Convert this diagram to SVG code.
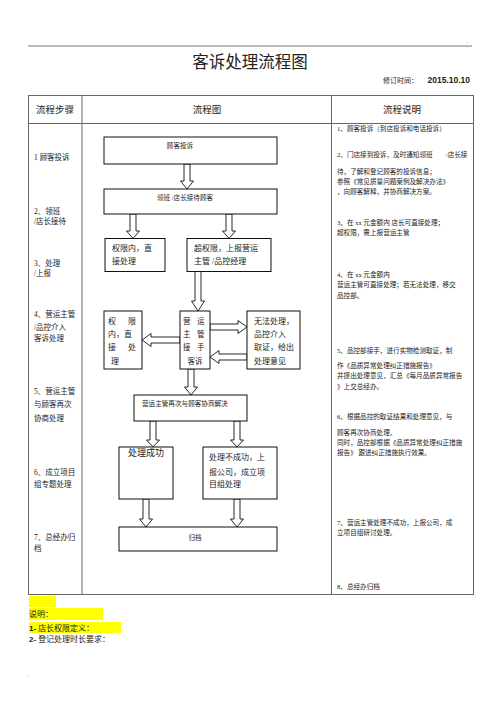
<svg xmlns="http://www.w3.org/2000/svg" width="500" height="708" viewBox="0 0 500 708">
<style>
text{font-family:"Liberation Serif","Noto Sans CJK SC",serif;fill:#222}
.grid{stroke:#666;stroke-width:1;fill:none}
.box{fill:#fff;stroke:#111;stroke-width:1}
.arr{fill:#fff;stroke:#111;stroke-width:0.9;stroke-linejoin:miter}
.s7{font-size:7.5px}
.s65{font-size:6.6px}
.s8{font-size:8px}
.hl{fill:#ffff00}
</style>
<rect width="500" height="708" fill="#fff"/>
<!-- page header -->
<line x1="28" y1="46" x2="472" y2="46" stroke="#777" stroke-width="1.2"/>
<text x="466" y="43" font-size="4">..</text>
<text x="250" y="68" font-size="16.5" text-anchor="middle">客诉处理流程图</text>
<text x="383" y="83" font-size="7">修订时间：</text>
<text x="470" y="83" font-size="8.5" font-weight="bold" text-anchor="end" style="font-family:'Liberation Sans','Noto Sans CJK SC',sans-serif">2015.10.10</text>
<!-- table -->
<g id="table">
<rect class="grid" x="28.5" y="95.5" width="445" height="499"/>
<line class="grid" x1="473.5" y1="95" x2="473.5" y2="595" stroke-width="1.6"/>
<line class="grid" x1="28" y1="123.5" x2="474" y2="123.5"/>
<line class="grid" x1="82" y1="95" x2="82" y2="595"/>
<line class="grid" x1="331.5" y1="95" x2="331.5" y2="595"/>
<text x="55" y="112.5" font-size="9.5" text-anchor="middle">流程步骤</text>
<text x="207" y="112.5" font-size="9.5" text-anchor="middle">流程图</text>
<text x="402" y="112.5" font-size="9.5" text-anchor="middle">流程说明</text>
</g>
<!-- step labels -->
<g id="steps" class="s7">
<text x="34" y="160">1 顾客投诉</text>
<text x="34" y="214">2、领班</text>
<text x="34" y="224">/店长接待</text>
<text x="34" y="266">3、处理</text>
<text x="34" y="276">/上报</text>
<text x="34" y="317">4、营运主管</text>
<text x="34" y="330">/品控介入</text>
<text x="34" y="341">客诉处理</text>
<text x="34" y="394">5、营运主管</text>
<text x="34" y="407">与顾客再次</text>
<text x="34" y="421">协商处理</text>
<text x="34" y="475">6、成立项目</text>
<text x="34" y="487">组专题处理</text>
<text x="34" y="540">7、总经办归</text>
<text x="34" y="551">档</text>
</g>
<!-- descriptions -->
<g id="desc" class="s65">
<text x="337" y="131">1、顾客投诉（到店投诉和电话投诉）</text>
<text x="337" y="157">2、门店接到投诉，及时通知领班　　/店长接</text>
<text x="337" y="174">待，了解和登记顾客的投诉信息；</text>
<text x="337" y="184">参照《常见质量问题案例及解决办法》</text>
<text x="337" y="194">，向顾客解释，并协商解决方案。</text>
<text x="337" y="225">3、在 xx 元金额内  店长可直接处理；</text>
<text x="337" y="235">超权限，需上报营运主管</text>
<text x="337" y="277">4、在 xx 元金额内</text>
<text x="337" y="287">营运主管可直接处理；若无法处理，移交</text>
<text x="337" y="298">品控部。</text>
<text x="337" y="353">5、品控部接手，进行实物检测取证，制</text>
<text x="337" y="368">作《品质异常处理纠正措施报告》</text>
<text x="337" y="378">并提出处理意见，汇总《每月品质异常报告</text>
<text x="337" y="389">》上交总经办。</text>
<text x="337" y="419">6、根据品控的取证结果和处理意见，与</text>
<text x="337" y="435">顾客再次协商处理。</text>
<text x="337" y="445">同时，品控部根据《品质异常处理纠正措施</text>
<text x="337" y="455">报告》 跟进纠正措施执行效果。</text>
<text x="337" y="525">7、营运主管处理不成功，上报公司，成</text>
<text x="337" y="535">立项目组研讨处理。</text>
<text x="337" y="589">8、总经办归档</text>
</g>
<!-- connectors -->
<g id="connectors">
<polygon class="arr" points="184,164 190,164 190,181 193.5,181 187,189 180.5,181 184,181"/>
<polygon class="arr" points="130,214 136,214 136,231 139.5,231 133,238.5 126.5,231 130,231"/>
<polygon class="arr" points="226,214 232,214 232,231 235.5,231 229,238.5 222.5,231 226,231"/>
<polygon class="arr" points="195,271 201,271 201,301 204.5,301 198,311 191.5,301 195,301"/>
<polygon class="arr" points="180,337 151,337 151,333.5 142,340 151,346.5 151,343 180,343"/>
<polygon class="arr" points="210,324 238,324 238,320.5 247,327 238,333.5 238,330 210,330"/>
<polygon class="arr" points="247,354 219,354 219,350.5 210,357 219,363.5 219,360 247,360"/>
<polygon class="arr" points="188,369 194,369 194,387 197.5,387 191,395 184.5,387 188,387"/>
<polygon class="arr" points="150,421 156,421 156,440 159.5,440 153,447 146.5,440 150,440"/>
<polygon class="arr" points="234,421 240,421 240,440 243.5,440 237,447 230.5,440 234,440"/>
<polygon class="arr" points="143,499 149,499 149,519 152.5,519 146,527 139.5,519 143,519"/>
<polygon class="arr" points="234,499 240,499 240,519 243.5,519 237,527 230.5,519 234,519"/>
</g>
<!-- nodes -->
<g id="n-complaint">
<rect class="box" x="104" y="137" width="173" height="27"/>
<text class="s65" x="180" y="147.5" text-anchor="middle">顾客投诉</text>
</g>
<g id="n-reception">
<rect class="box" x="104" y="189" width="173" height="25"/>
<text class="s65" x="185" y="199.5" text-anchor="middle">领班 /店长接待顾客</text>
</g>
<g id="n-direct">
<rect class="box" x="105" y="238.5" width="60" height="33"/>
<text class="s8" x="112" y="251">权限内，直</text>
<text class="s8" x="112" y="264">接处理</text>
</g>
<g id="n-escalate">
<rect class="box" x="187" y="238.5" width="84" height="33"/>
<text class="s8" x="194" y="251">超权限，上报营运</text>
<text class="s8" x="194" y="264">主管 /品控经理</text>
</g>
<g id="n-direct2">
<rect class="box" x="104" y="311" width="38" height="58"/>
<text class="s8" x="108" y="324">权</text>
<text class="s8" x="128" y="324">限</text>
<text class="s8" x="108" y="337">内，直</text>
<text class="s8" x="108" y="350">接</text>
<text class="s8" x="128" y="350">处</text>
<text class="s8" x="111" y="364">理</text>
</g>
<g id="n-ops">
<rect class="box" x="180" y="311" width="30" height="58"/>
<text class="s7" x="183" y="324">营</text>
<text class="s7" x="197" y="324">运</text>
<text class="s7" x="183" y="337">主</text>
<text class="s7" x="197" y="337">管</text>
<text class="s7" x="183" y="350">接</text>
<text class="s7" x="197" y="350">手</text>
<text class="s7" x="195" y="364" text-anchor="middle">客诉</text>
</g>
<g id="n-qc">
<rect class="box" x="247" y="311" width="53" height="58"/>
<text class="s8" x="254" y="324">无法处理，</text>
<text class="s8" x="254" y="337">品控介入</text>
<text class="s8" x="254" y="350">取证，给出</text>
<text class="s8" x="254" y="364">处理意见</text>
</g>
<g id="n-negotiate">
<rect class="box" x="134" y="395" width="113" height="26"/>
<text class="s65" x="142" y="405.5">营运主管再次与顾客协商解决</text>
</g>
<g id="n-success">
<rect class="box" x="119" y="447" width="54" height="52"/>
<text x="146" y="456" font-size="9" text-anchor="middle">处理成功</text>
</g>
<g id="n-fail">
<rect class="box" x="203" y="447" width="74" height="52"/>
<text class="s8" x="209" y="460">处理不成功，上</text>
<text class="s8" x="209" y="475">报公司，成立项</text>
<text class="s8" x="209" y="487">目组处理</text>
</g>
<g id="n-archive">
<rect class="box" x="119" y="527" width="158" height="24"/>
<text class="s65" x="195" y="539.5" text-anchor="middle">归档</text>
</g>
<!-- notes -->
<g id="notes">
<rect class="hl" x="29" y="596" width="27" height="11"/>
<rect class="hl" x="29" y="608" width="74" height="12"/>
<rect class="hl" x="29" y="622" width="92" height="11"/>
<text x="29" y="617" font-size="8">说明：</text>
<text x="29" y="631" font-size="8"><tspan style="font-family:'Liberation Sans',sans-serif;font-weight:bold">1-</tspan> 店长权限定义：</text>
<text x="29" y="642" font-size="8"><tspan style="font-family:'Liberation Sans',sans-serif;font-weight:bold">2-</tspan> 登记处理时长要求：</text>
<text x="27" y="677" font-size="5" fill="#666">.</text>
</g>
</svg>
